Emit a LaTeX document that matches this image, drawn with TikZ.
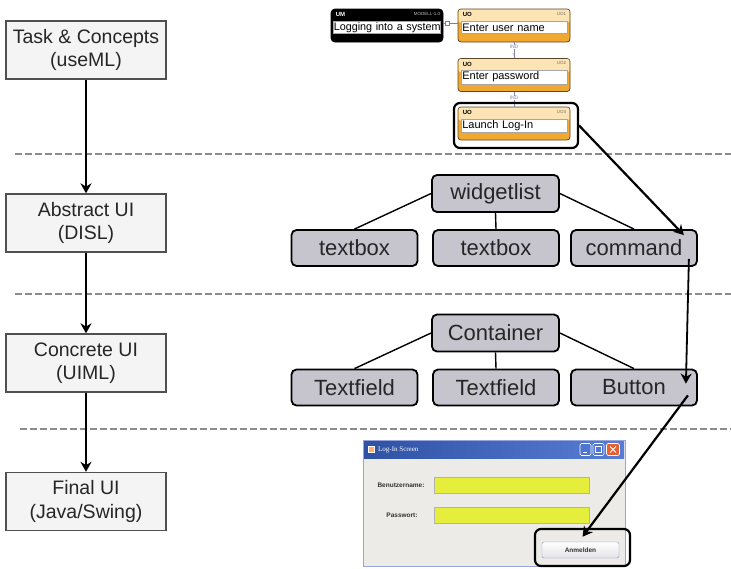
\documentclass[tikz,border=0pt]{standalone}
\usepackage{amssymb}
\usepackage{fontspec}
\setmainfont{Liberation Sans}
\newfontfamily\serifven{Liberation Serif}
\usetikzlibrary{arrows.meta,positioning,calc}
\definecolor{gristab}{RGB}{244,244,244}
\definecolor{grisborde}{RGB}{80,80,80}
\definecolor{grisnodo}{RGB}{198,196,204}
\definecolor{grisraya}{RGB}{140,140,140}
\definecolor{naranja}{RGB}{240,168,48}
\definecolor{naranjac}{RGB}{252,228,180}
\definecolor{marron}{RGB}{90,70,40}
\definecolor{violeta}{RGB}{130,130,170}
\definecolor{azulxp}{RGB}{58,102,205}
\definecolor{azulbor}{RGB}{150,165,220}
\definecolor{fondoven}{RGB}{236,235,232}
\definecolor{amarillo}{RGB}{230,238,60}
\definecolor{rojoxp}{RGB}{230,96,48}
\definecolor{botbor}{RGB}{127,157,185}
\tikzset{
  nivel/.style={draw=grisborde, fill=gristab, line width=1.3pt, minimum width=160pt, minimum height=58pt, align=center, inner sep=2pt, text=black!85, font=\fontsize{19.5}{23.5}\selectfont},
  nodo/.style={draw, fill=grisnodo, line width=1.8pt, rounded corners=5pt, minimum width=126pt, minimum height=36pt, inner sep=0pt, text=black!85, font=\fontsize{22}{26}\selectfont},
  raya/.style={draw=grisraya, line width=1.8pt, dash pattern=on 7pt off 3pt},
  fl/.style={-{Stealth[length=10pt,width=11pt]}, line width=2.2pt},
  rama/.style={line width=1.4pt},
  uo/.style={draw=marron, fill=naranja, line width=.8pt, rounded corners=3pt, minimum width=112pt, minimum height=33pt, inner sep=0pt},
  um/.style={draw=black, fill=black, line width=.8pt, rounded corners=4pt, minimum width=112pt, minimum height=33pt, inner sep=0pt},
  cuerpo/.style={fill=white, draw=black!35, line width=.4pt, anchor=west, text width=103pt, align=left, inner sep=1.5pt, minimum height=12pt, font=\fontsize{11}{12}\selectfont},
  cab/.style={anchor=west, inner sep=0pt, font=\bfseries\fontsize{6}{6}\selectfont},
  ident/.style={anchor=east, inner sep=0pt, text=black!55, font=\fontsize{4.5}{5}\selectfont},
  ind/.style={draw=violeta, line width=.5pt},
  etiq/.style={fill=white, inner sep=.3pt, text=violeta, font=\fontsize{5}{5}\selectfont},
  marco/.style={draw, line width=2.2pt, rounded corners=6pt, inner sep=0pt},
  campo/.style={draw=black!30, fill=amarillo, minimum width=155pt, minimum height=16pt, inner sep=0pt},
  rot/.style={inner sep=0pt, text=black!80, font=\bfseries\fontsize{6.5}{7}\selectfont},
  boton/.style={draw=white, line width=.6pt, rounded corners=1.5pt, minimum height=12pt, inner sep=0pt},
}
\begin{document}
\begin{tikzpicture}[x=1pt,y=-1pt]
  \useasboundingbox (0,0) rectangle (731,568);
  % separadores
  \coordinate (s1a) at (15,154); \coordinate (s1b) at (731,154);
  \coordinate (s2a) at (15,294); \coordinate (s2b) at (731,294);
  \coordinate (s3a) at (20,429); \coordinate (s3b) at (731,429);
  \draw[raya] (s1a) -- (s1b);
  \draw[raya] (s2a) -- (s2b);
  \draw[raya] (s3a) -- (s3b);
  % niveles
  \node[nivel] (tc) at (86,50) {Task \& Concepts\\(useML)};
  \node[nivel] (aui) at (86,223) {Abstract UI\\(DISL)};
  \node[nivel] (cui) at (86,363) {Concrete UI\\(UIML)};
  \node[nivel] (fui) at (86,501.5) {Final UI\\(Java/Swing)};
  \draw[fl] (tc) -- (aui); \draw[fl] (aui) -- (cui); \draw[fl] (cui) -- (fui);
  % modelo de tareas
  \node[um] (um) at (387,25.5) {};
  \node[cab, text=white] (umc) at ([shift={(5,6)}]um.north west) {UM};
  \node[ident, text=white!75!black] (umi) at ([shift={(-3,5)}]um.north east) {MODELL-1.0};
  \node[cuerpo, text width=106pt, inner sep=.5pt, font=\fontsize{10.8}{12}\selectfont] (umt) at ([shift={(2.5,19)}]um.north west) {\mbox{Logging into a system}};
  \node[uo] (uo1) at (514,25.5) {};
  \node[uo] (uo2) at (514,75) {};
  \node[uo] (uo3) at (514,123.5) {};
  \fill[naranjac, rounded corners=2pt] ([shift={(1,1)}]uo1.north west) rectangle ([shift={(-1,14)}]uo1.north east);
  \fill[naranjac, rounded corners=2pt] ([shift={(1,1)}]uo2.north west) rectangle ([shift={(-1,14)}]uo2.north east);
  \fill[naranjac, rounded corners=2pt] ([shift={(1,1)}]uo3.north west) rectangle ([shift={(-1,14)}]uo3.north east);
  \node[cab] (uo1c) at ([shift={(5,6)}]uo1.north west) {UO};
  \node[cab] (uo2c) at ([shift={(5,6)}]uo2.north west) {UO};
  \node[cab] (uo3c) at ([shift={(5,6)}]uo3.north west) {UO};
  \node[ident] (uo1i) at ([shift={(-4,5)}]uo1.north east) {UO1};
  \node[ident] (uo2i) at ([shift={(-4,5)}]uo2.north east) {UO2};
  \node[ident] (uo3i) at ([shift={(-4,5)}]uo3.north east) {UO3};
  \node[cuerpo] (uo1t) at ([shift={(3,19)}]uo1.north west) {Enter user name};
  \node[cuerpo] (uo2t) at ([shift={(3,19)}]uo2.north west) {Enter password};
  \node[cuerpo] (uo3t) at ([shift={(3,19)}]uo3.north west) {Launch Log-In};
  \draw[draw=black!50, line width=.6pt] ([shift={(0,-2)}]um.east) -- node[pos=.27, draw=black!50, fill=white, inner sep=0pt, minimum size=3.5pt]{} ([shift={(0,-2)}]uo1.west);
  \draw[ind] (uo1.south) -- node[pos=.3, etiq]{IND} node[pos=.78, inner sep=0pt, text=violeta, font=\fontsize{5}{5}\selectfont]{$\triangledown$} (uo2.north);
  \draw[ind] (uo2.south) -- node[pos=.4, etiq]{IND} (uo3.north);
  \node[marco, minimum width=124pt, minimum height=45pt] (m3) at (516,125.5) {};
  % AUI
  \node[nodo, minimum width=127pt, minimum height=37pt] (wl) at (495.5,193.5) {widgetlist};
  \node[nodo] (tb1) at (354.5,248) {textbox};
  \node[nodo] (tb2) at (496,248) {textbox};
  \node[nodo] (cmd) at (634,248) {command};
  \draw[rama] (wl.west) -- (tb1.north); \draw[rama] (wl.south) -- (tb2.north); \draw[rama] (wl.east) -- (cmd.north);
  % CUI
  \node[nodo, minimum width=127pt, minimum height=37pt] (cont) at (495.5,333) {Container};
  \node[nodo] (tf1) at (354.5,387.5) {Textfield};
  \node[nodo] (tf2) at (496,387.5) {Textfield};
  \node[nodo] (btn) at (634,387.5) {Button};
  \draw[rama] (cont.west) -- (tf1.north); \draw[rama] (cont.south) -- (tf2.north); \draw[rama] (cont.east) -- (btn.north);
  % ventana Swing
  \node[draw=azulbor, fill=fondoven, line width=.8pt, minimum width=262pt, minimum height=126pt, inner sep=0pt] (ven) at (494,503) {};
  \node[left color=azulxp!80!black, right color=azulxp!85!white, minimum width=260pt, minimum height=17pt, inner sep=0pt] (barra) at (494,449.5) {};
  \node[draw=white, fill=orange!60, minimum size=6pt, inner sep=0pt] (ico) at ([shift={(7,0)}]barra.west) {};
  \node[anchor=west, text=white, inner sep=0pt, font=\serifven\fontsize{7}{7}\selectfont] (tit) at ([shift={(4,0)}]ico.east) {Log-In Screen};
  \node[boton, fill=azulxp!90!white, minimum width=11pt] (bmin) at (585.5,449.5) {};
  \node[boton, fill=azulxp!90!white, minimum width=11pt] (bmax) at (598.5,449.5) {};
  \node[boton, fill=rojoxp, minimum width=13pt] (bcer) at (613,449.5) {};
  \draw[white, line width=1pt] ([shift={(-3,3)}]bmin.center) -- ([shift={(1,3)}]bmin.center);
  \draw[white, line width=.7pt] ([shift={(-3,-3)}]bmax.center) rectangle ([shift={(3,3)}]bmax.center);
  \draw[white, line width=1pt] ([shift={(-3,-3)}]bcer.center) -- ([shift={(3,3)}]bcer.center);
  \draw[white, line width=1pt] ([shift={(-3,3)}]bcer.center) -- ([shift={(3,-3)}]bcer.center);
  \node[rot] (lbu) at (401,485) {Benutzername:};
  \node[rot] (lpw) at (402,515) {Passwort:};
  \node[campo] (fbu) at (511.5,485) {};
  \node[campo] (fpw) at (511.5,515) {};
  \node[draw=botbor, top color=white, bottom color=blue!8!gray!20, rounded corners=2pt, minimum width=77pt, minimum height=16pt, inner sep=0pt, font=\bfseries\fontsize{6.5}{7}\selectfont, text=black!80] (anm) at (580.5,550) {Anmelden};
  \node[marco, minimum width=95pt, minimum height=37pt] (manm) at (582.5,547.5) {};
  % correspondencias
  \draw[fl] (m3.east) -- ([shift={(-14,6)}]cmd.north east);
  \draw[fl, line width=1.8pt] ([shift={(-9,-8)}]cmd.south east) -- ([shift={(-12,15)}]btn.north east);
  \draw[fl] ([shift={(-10,-11)}]btn.south east) -- ([shift={(2,-5)}]anm.north);
\end{tikzpicture}
\end{document}
